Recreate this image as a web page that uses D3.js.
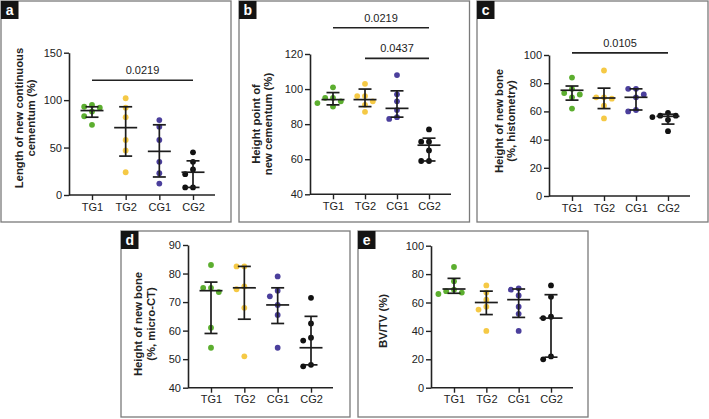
<!DOCTYPE html>
<html lang="en">
<head>
<meta charset="utf-8">
<title>Cementum and bone regeneration</title>
<script src="https://cdn.jsdelivr.net/npm/d3@7"></script>
<style>
  body { margin: 0; background: #fff; }
  text { font-family: "Liberation Sans", Arial, sans-serif; fill: #222; }
</style>
</head>
<body>
<script>

// groups + colours
var groups = ["TG1", "TG2", "CG1", "CG2"];
var groupColors = ["#5cae2f", "#f5c945", "#4b3f9c", "#111111"];

// panel a - length of new continuous cementum
var aPoints = [[95, 93, 92, 88, 83, 74], [102, 92, 82, 58, 47, 24], [79, 72, 58, 35, 23, 12], [45, 35, 27, 22, 8, 8]];
var aMean = [89, 71, 46, 24];
var aLow = [82, 41, 19, 8];
var aHigh = [93, 93, 74, 36];
var aTicks = [0, 50, 100, 150];
var aSig = [["TG1", "CG2", 121, "0.0219"]];

// panel b - height point of new cementum
var bPoints = [[101, 95, 95, 93, 92, 90], [103, 96, 96, 93, 91, 87], [108, 97, 93, 88, 84, 83], [77, 70, 70, 65, 59, 59]];
var bMean = [94, 94, 89, 68];
var bLow = [91, 90, 84, 59];
var bHigh = [98, 100, 99, 72];
var bTicks = [40, 60, 80, 100, 120];
var bSig = [["TG1", "CG2", 135, "0.0219"], ["TG2", "CG2", 117.5, "0.0437"]];

// panel c - height of new bone (histometry)
var cPoints = [[84, 76, 73, 72, 70, 62], [89, 70, 70, 69, 64, 55], [76, 76, 72, 70, 61, 60], [59, 57, 57, 56, 54, 46]];
var cMean = [75, 69.5, 70, 56.5];
var cLow = [68, 62, 61, 51];
var cHigh = [78, 76.5, 76, 58];
var cTicks = [0, 20, 40, 60, 80, 100];
var cSig = [["TG1", "CG2", 101.5, "0.0105"]];

// panel d - height of new bone (micro-CT)
var dPoints = [[83, 75, 75, 73.5, 61, 54], [82.5, 82.5, 75.5, 74.5, 68, 51], [79, 74, 72, 69, 65.5, 54], [71.5, 62.5, 57.5, 56.5, 48, 47.5]];
var dMean = [74, 75, 69, 54];
var dLow = [59, 64, 62.5, 48];
var dHigh = [77, 82.5, 75, 65];
var dTicks = [40, 50, 60, 70, 80, 90];

// panel e - BV/TV
var ePoints = [[85, 75, 69, 68, 67, 66], [72, 67, 62, 57, 55, 40], [70, 69, 65, 57, 52, 40], [72, 64, 50, 49, 22, 20]];
var eMean = [69.5, 60, 62, 49];
var eLow = [66.5, 51.5, 49.5, 21.5];
var eHigh = [77, 68, 69.5, 65.5];
var eTicks = [0, 20, 40, 60, 80, 100];

var W = 709, H = 419;
var svg = d3.select("body").append("svg").attr("width", W).attr("height", H);

var panels = [
  { letter: "a", x: 1, y: 1, w: 230, h: 221, ax: 68, top: 51.7, bot: 194, end: 214, ticks: aTicks,
    title: ["Length of new continuous", "cementum (%)"], tx: 18, ty: 117,
    pts: aPoints, mean: aMean, low: aLow, high: aHigh, sig: aSig },
  { letter: "b", x: 239, y: 1, w: 230.5, h: 221, ax: 71, top: 53, bot: 193.3, end: 212, ticks: bTicks,
    title: ["Height point of", "new cementum (%)"], tx: 17, ty: 123,
    pts: bPoints, mean: bMean, low: bLow, high: bHigh, sig: bSig },
  { letter: "c", x: 477, y: 1, w: 231, h: 221, ax: 72, top: 54, bot: 195, end: 213, ticks: cTicks,
    title: ["Height of new bone", "(%, histometry)"], tx: 22, ty: 120,
    pts: cPoints, mean: cMean, low: cLow, high: cHigh, sig: cSig },
  { letter: "d", x: 121, y: 231, w: 229, h: 186, ax: 67, top: 14, bot: 156.7, end: 212, ticks: dTicks,
    title: ["Height of new bone", "(%, micro-CT)"], tx: 17.5, ty: 93,
    pts: dPoints, mean: dMean, low: dLow, high: dHigh, sig: [] },
  { letter: "e", x: 358, y: 231, w: 230, h: 186, ax: 73, top: 14.7, bot: 156.7, end: 215, ticks: eTicks,
    title: ["BV/TV (%)"], tx: 25, ty: 90,
    pts: ePoints, mean: eMean, low: eLow, high: eHigh, sig: [] }
];

var r = 2.9, dx = 7.8, minD = 5.9;

// simple beeswarm so overlapping dots sit side by side
function swarm(vals, y, cx) {
  var placed = [];
  return vals.map(function(v) {
    var py = y(v);
    var steps = [0, -1, 1, -2, 2, -3, 3];
    for (var k = 0; k < steps.length; k++) {
      var px = cx + steps[k] * dx;
      var ok = placed.every(function(p) { return Math.hypot(p.x - px, p.y - py) >= minD; });
      if (ok) { placed.push({ x: px, y: py }); return { x: px, y: py }; }
    }
    placed.push({ x: cx, y: py });
    return { x: cx, y: py };
  });
}

panels.forEach(function(p) {
  var g = svg.append("g").attr("transform", "translate(" + p.x + "," + p.y + ")");

  // frame + letter box
  g.append("rect").attr("x", 0).attr("y", 0).attr("width", p.w).attr("height", p.h)
    .attr("fill", "none").attr("stroke", "#7a7a7a").attr("stroke-width", 1.3);
  g.append("rect").attr("x", 0).attr("y", 0).attr("width", 17.5).attr("height", 18).attr("fill", "#141414");
  g.append("text").attr("x", 8.7).attr("y", 13.5).attr("text-anchor", "middle")
    .style("fill", "#fff").style("font-weight", "bold").style("font-size", "14px").text(p.letter);

  var y = d3.scaleLinear().domain(d3.extent(p.ticks)).range([p.bot, p.top]);
  var x = d3.scalePoint().domain(groups).range([p.ax + 23, p.end - 22]);

  // axes
  var yAxis = d3.axisLeft(y).tickValues(p.ticks).tickSize(5).tickPadding(2).tickSizeOuter(0);
  var ya = g.append("g").attr("transform", "translate(" + p.ax + ",0)").call(yAxis);
  var xAxis = d3.axisBottom(x).tickSize(5).tickPadding(3).tickSizeOuter(0);
  var xa = g.append("g").attr("transform", "translate(0," + p.bot + ")").call(xAxis);
  xa.select(".domain").remove();
  xa.append("line").attr("x1", p.ax).attr("x2", p.end).attr("stroke", "#222").attr("stroke-width", 1.6);
  [ya, xa].forEach(function(a) {
    a.selectAll(".domain").attr("stroke", "#222").attr("stroke-width", 1.6);
    a.selectAll(".tick line").attr("stroke", "#222").attr("stroke-width", 1.4);
    a.selectAll(".tick text").style("font-size", "11px").style("fill", "#222");
  });

  // y title
  var t = g.append("text").attr("transform", "translate(" + p.tx + "," + p.ty + ") rotate(-90)")
    .attr("text-anchor", "middle").style("font-size", "11.3px").style("font-weight", "bold");
  p.title.forEach(function(line, i) {
    t.append("tspan").attr("x", 0).attr("dy", i === 0 ? "0.35em" : "1.1em").text(line);
  });

  // dots
  groups.forEach(function(gr, i) {
    var cx = x(gr);
    var sorted = p.pts[i].slice().sort(d3.descending);
    g.selectAll(".dot" + i).data(swarm(sorted, y, cx)).enter().append("circle")
      .attr("cx", function(d) { return d.x; }).attr("cy", function(d) { return d.y; })
      .attr("r", r).attr("fill", groupColors[i]);

    // error bar
    var eb = g.append("g").attr("stroke", "#1c1c1c").attr("stroke-width", 1.7);
    eb.append("line").attr("x1", cx).attr("x2", cx).attr("y1", y(p.low[i])).attr("y2", y(p.high[i]));
    eb.append("line").attr("x1", cx - 11.5).attr("x2", cx + 11.5).attr("y1", y(p.mean[i])).attr("y2", y(p.mean[i]));
    eb.append("line").attr("x1", cx - 6.5).attr("x2", cx + 6.5).attr("y1", y(p.low[i])).attr("y2", y(p.low[i]));
    eb.append("line").attr("x1", cx - 6.5).attr("x2", cx + 6.5).attr("y1", y(p.high[i])).attr("y2", y(p.high[i]));
  });

  // significance bars
  p.sig.forEach(function(s) {
    var sy = y(s[2]);
    g.append("line").attr("x1", x(s[0])).attr("x2", x(s[1])).attr("y1", sy).attr("y2", sy)
      .attr("stroke", "#222").attr("stroke-width", 1.6);
    g.append("text").attr("x", (x(s[0]) + x(s[1])) / 2).attr("y", sy - 6)
      .attr("text-anchor", "middle").style("font-size", "11px").text(s[3]);
  });
});

</script>
</body>
</html>
